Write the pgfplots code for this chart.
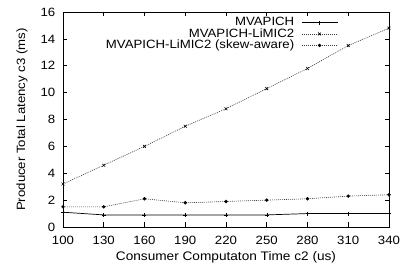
\documentclass[border=0pt]{standalone}
\usepackage{fontspec}
\setmainfont{Liberation Sans}[FakeStretch=1.1]
\usepackage{pgfplots}
\pgfplotsset{compat=1.18}
\begin{document}
\fontsize{12bp}{14bp}\selectfont
\begin{tikzpicture}
\begin{axis}[
  at={(0,0)}, anchor=south west,
  scale only axis,
  width=326bp, height=215bp,
  xmin=100, xmax=340, ymin=0, ymax=16,
  xtick={100,130,...,340}, ytick={0,2,...,16},
  tick align=inside, major tick length=4.5bp,
  axis line style={line width=0.8bp},
  tick style={line width=0.6bp, black},
  /pgf/number format/assume math mode=true,
  xticklabel style={font=\fontsize{12bp}{14bp}\selectfont, yshift=-5bp},
  yticklabel style={font=\fontsize{12bp}{14bp}\selectfont, xshift=-3.5bp},
  xlabel={Consumer Computaton Time c2 (us)},
  ylabel={Producer Total Latency c3 (ms)},
  every axis x label/.style={at={(axis description cs:0.5,-0.1395)}, anchor=center, font=\fontsize{12.4bp}{14bp}\selectfont},
  every axis y label/.style={at={(axis description cs:-0.126,0.5)}, rotate=90, anchor=center, font=\fontsize{12bp}{14bp}\selectfont},
  legend style={draw=none, fill=none, at={(0.844,0.98)}, anchor=north east, inner sep=0pt,
    font=\fontsize{12bp}{14bp}\selectfont, row sep=-1bp, column sep=6bp,
    nodes={inner sep=1bp}},
  legend cell align=right,
  legend plot pos=right,
  legend image code/.code={\draw[mark repeat=2,mark phase=2] plot coordinates {(0bp,0bp) (18bp,0bp) (36bp,0bp)};},
]
\addplot[black, line width=0.7bp, mark=+, mark size=2bp, mark options={solid, line width=0.5bp}]
  coordinates {(100,1.1) (130,0.9) (160,0.9) (190,0.9) (220,0.9) (250,0.9) (280,1.0) (310,1.0) (340,1.0)};
\addlegendentry{MVAPICH}
\addplot[black!75, line width=0.6bp, dash pattern=on 1bp off 1bp, mark=x, mark size=2bp, mark options={solid, black, line width=0.6bp}]
  coordinates {(100,3.2) (130,4.6) (160,6.0) (190,7.5) (220,8.8) (250,10.3) (280,11.8) (310,13.5) (340,14.8)};
\addlegendentry{MVAPICH-LiMIC2}
\addplot[black!75, line width=0.6bp, dash pattern=on 1bp off 1bp, mark=*, mark size=1.4bp, mark options={solid, black}]
  coordinates {(100,1.5) (130,1.5) (160,2.1) (190,1.8) (220,1.9) (250,2.0) (280,2.1) (310,2.3) (340,2.4)};
\addlegendentry{MVAPICH-LiMIC2 (skew-aware)}
\end{axis}
\pgfresetboundingbox
\path[use as bounding box] (-63bp,-37bp) rectangle (339bp,227bp);
\end{tikzpicture}
\end{document}
